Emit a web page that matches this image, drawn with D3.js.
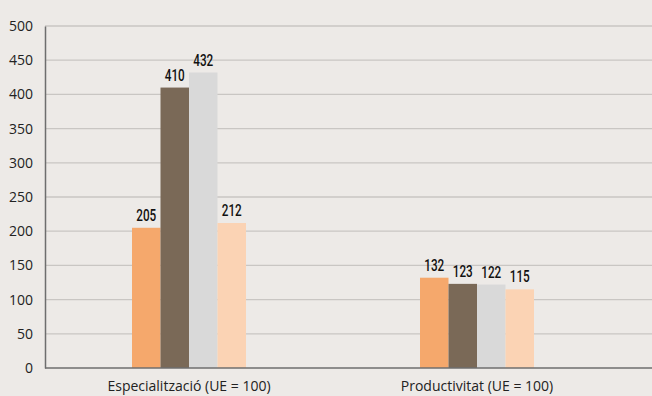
<!DOCTYPE html>
<head>
  <meta charset="utf-8">
  <style>
    body { margin: 0; background: #edeae7; }
    .tick text { font-family: "Open Sans", "Noto Sans", sans-serif; font-size: 14px; fill: #222; }
  </style>
</head>
<body>
  <svg id="chart" width="652" height="396"></svg>
  <script src="https://d3js.org/d3.v7.min.js"></script>
  <script>
    // data
    var categories = ["Especialització (UE = 100)", "Productivitat (UE = 100)"];
    var seriesKeys = ["s1", "s2", "s3", "s4"];
    var series1 = [205, 132];
    var series2 = [410, 123];
    var series3 = [432, 122];
    var series4 = [212, 115];
    var yTicks = [0, 50, 100, 150, 200, 250, 300, 350, 400, 450, 500];
    var colors = ["#f5a86c", "#7a6957", "#d9d9d9", "#fbd3b4"];

    var allSeries = [series1, series2, series3, series4];
    var data = categories.map(function(c, i) {
      return { cat: c, values: allSeries.map(function(s, k) { return { key: seriesKeys[k], value: s[i] }; }) };
    });

    var svg = d3.select("#chart"),
        plotLeft = 45, plotRight = 621, plotTop = 26, plotBottom = 368;

    svg.append("rect").attr("width", 652).attr("height", 396).attr("fill", "#edeae7");

    var x0 = d3.scaleBand().domain(categories).range([plotLeft, plotRight]);
    var x1 = d3.scaleBand().domain(seriesKeys).range([0, 114]);
    var y = d3.scaleLinear().domain([0, 500]).range([plotBottom, plotTop]);
    var z = d3.scaleOrdinal().domain(seriesKeys).range(colors);

    // gridlines
    svg.append("g").selectAll("line")
      .data(yTicks.slice(1))
      .enter().append("line")
      .attr("x1", plotLeft).attr("x2", 652)
      .attr("y1", function(d) { return y(d); })
      .attr("y2", function(d) { return y(d); })
      .attr("stroke", "#c9c6c3")
      .attr("stroke-width", 1.3);

    // bars
    var groups = svg.append("g").selectAll("g")
      .data(data)
      .enter().append("g")
      .attr("transform", function(d) {
        return "translate(" + (x0(d.cat) + x0.bandwidth() / 2 - 57) + ",0)";
      });

    groups.selectAll("rect")
      .data(function(d) { return d.values; })
      .enter().append("rect")
      .attr("x", function(d) { return x1(d.key); })
      .attr("y", function(d) { return y(d.value); })
      .attr("width", x1.bandwidth())
      .attr("height", function(d) { return plotBottom - y(d.value); })
      .attr("fill", function(d) { return z(d.key); });

    // value labels (condensed look via textLength)
    groups.selectAll("text")
      .data(function(d) { return d.values; })
      .enter().append("text")
      .attr("x", function(d) { return x1(d.key) + x1.bandwidth() / 2 - 10; })
      .attr("y", function(d) { return y(d.value) - 7; })
      .attr("textLength", 20)
      .attr("lengthAdjust", "spacingAndGlyphs")
      .style("font-family", "Roboto, sans-serif")
      .style("font-weight", "500")
      .style("font-size", "17px")
      .attr("fill", "#111")
      .text(function(d) { return d.value; });

    // y axis
    var yAxis = svg.append("g")
      .attr("transform", "translate(" + plotLeft + ",0)")
      .call(d3.axisLeft(y).tickValues(yTicks).tickSize(0).tickPadding(12));
    yAxis.select(".domain").attr("stroke", "#6e6e6e").attr("stroke-width", 1.5);

    // x axis
    var xAxis = svg.append("g")
      .attr("transform", "translate(0," + plotBottom + ")")
      .call(d3.axisBottom(x0).tickSize(0).tickPadding(13));
    xAxis.select(".domain").remove();
    svg.append("line")
      .attr("x1", plotLeft).attr("x2", 652)
      .attr("y1", plotBottom).attr("y2", plotBottom)
      .attr("stroke", "#6e6e6e").attr("stroke-width", 1.5);
  </script>
</body>
